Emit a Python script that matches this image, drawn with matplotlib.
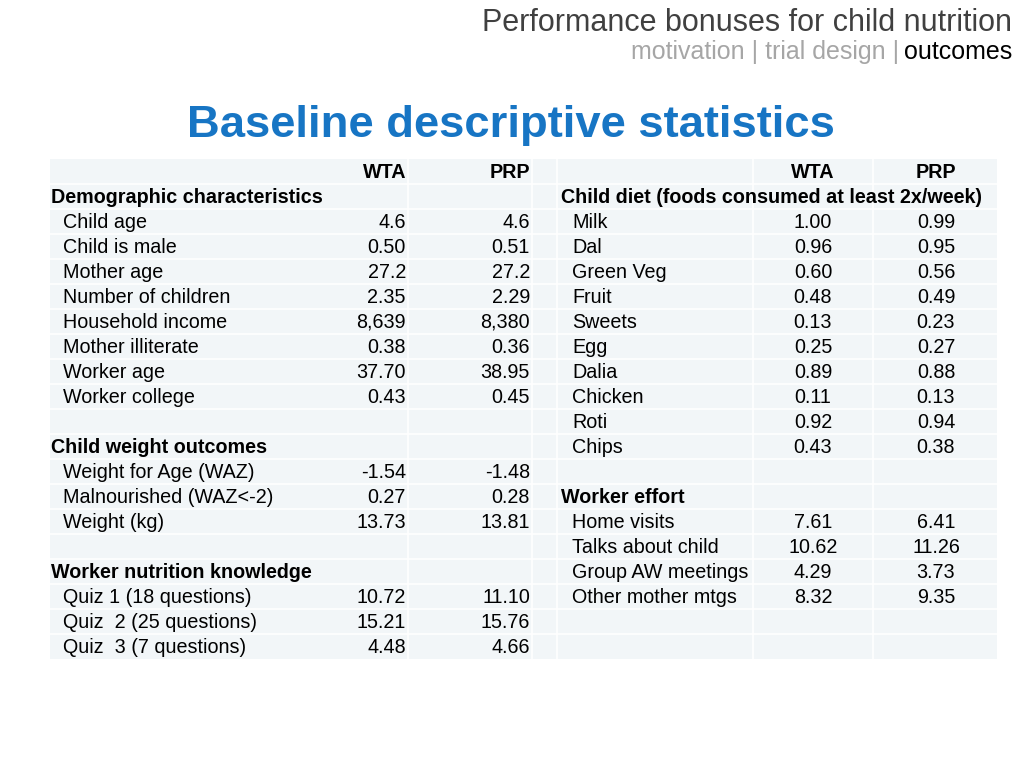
import matplotlib
matplotlib.use("Agg")
import matplotlib.pyplot as plt

plt.rcParams["font.family"] = ["Liberation Sans", "DejaVu Sans"]

# left block: label, WTA, PRP ; bold rows are section headings
left_labels = ["", "Demographic characteristics", "Child age", "Child is male", "Mother age",
               "Number of children", "Household income", "Mother illiterate", "Worker age",
               "Worker college", "", "Child weight outcomes", "Weight for Age (WAZ)",
               "Malnourished (WAZ<-2)", "Weight (kg)", "", "Worker nutrition knowledge",
               "Quiz 1 (18 questions)", "Quiz  2 (25 questions)", "Quiz  3 (7 questions)"]
left_wta = ["WTA", "", "4.6", "0.50", "27.2", "2.35", "8,639", "0.38", "37.70", "0.43",
            "", "", "-1.54", "0.27", "13.73", "", "", "10.72", "15.21", "4.48"]
left_prp = ["PRP", "", "4.6", "0.51", "27.2", "2.29", "8,380", "0.36", "38.95", "0.45",
            "", "", "-1.48", "0.28", "13.81", "", "", "11.10", "15.76", "4.66"]
left_bold = [0, 1, 11, 16]

right_labels = ["", "Child diet (foods consumed at least 2x/week)", "Milk", "Dal", "Green Veg",
                "Fruit", "Sweets", "Egg", "Dalia", "Chicken", "Roti", "Chips", "",
                "Worker effort", "Home visits", "Talks about child", "Group AW meetings",
                "Other mother mtgs", "", ""]
right_wta = ["WTA", "", "1.00", "0.96", "0.60", "0.48", "0.13", "0.25", "0.89", "0.11",
             "0.92", "0.43", "", "", "7.61", "10.62", "4.29", "8.32", "", ""]
right_prp = ["PRP", "", "0.99", "0.95", "0.56", "0.49", "0.23", "0.27", "0.88", "0.13",
             "0.94", "0.38", "", "", "6.41", "11.26", "3.73", "9.35", "", ""]
right_bold = [0, 1, 13]

W, H = 1024, 768
fig = plt.figure(figsize=(W / 100, H / 100), dpi=100)

# table axes (x in pixel-like column units, y in rows)
x0, x1 = 50, 997
top, bottom = 158.5, 658.5
n = len(left_labels)
ax = fig.add_axes([x0 / W, 1 - bottom / H, (x1 - x0) / W, (bottom - top) / H])
ax.set_xlim(x0, x1)
ax.set_ylim(n, 0)
ax.set_facecolor("#f2f6f8")
for s in ax.spines.values():
    s.set_visible(False)
ax.set_xticks([])
ax.set_yticks([])

for i in range(1, n):
    ax.axhline(i, color="white", lw=1.2)
for xb in [408, 532, 557, 753, 873]:
    ax.axvline(xb, color="white", lw=1.2)

fs = 14.2
for i in range(n):
    yc = i + 0.56
    bold_l = i in left_bold
    ind = 51 if bold_l else 63
    ax.text(ind, yc, left_labels[i], ha="left", va="center", fontsize=fs,
            fontweight="bold" if bold_l else "normal", color="black")
    ax.text(406, yc, left_wta[i], ha="right", va="center", fontsize=fs,
            fontweight="bold" if i == 0 else "normal")
    ax.text(530, yc, left_prp[i], ha="right", va="center", fontsize=fs,
            fontweight="bold" if i == 0 else "normal")

    bold_r = i in right_bold
    ind = 561 if bold_r else 572
    ax.text(ind, yc, right_labels[i], ha="left", va="center", fontsize=fs,
            fontweight="bold" if bold_r else "normal", color="black")
    ax.text(813, yc, right_wta[i], ha="center", va="center", fontsize=fs,
            fontweight="bold" if i == 0 else "normal")
    ax.text(936, yc, right_prp[i], ha="center", va="center", fontsize=fs,
            fontweight="bold" if i == 0 else "normal")

# slide header
fig.text(1012 / W, 1 - 23 / H, "Performance bonuses for child nutrition", ha="right",
         va="center", fontsize=22, color="#404040")
t_out = fig.text(1012 / W, 1 - 52 / H, "outcomes", ha="right", va="center",
                 fontsize=18, color="black")
fig.canvas.draw()
bb = t_out.get_window_extent(fig.canvas.get_renderer())
fig.text((bb.x0 - 5) / W, 1 - 52 / H, "motivation | trial design |", ha="right",
         va="center", fontsize=18, color="#a6a6a6")

fig.text(511 / W, 1 - 126 / H, "Baseline descriptive statistics", ha="center",
         va="center", fontsize=32.7, fontweight="bold", color="#1775c4")

fig.savefig("out.png", dpi=100)
